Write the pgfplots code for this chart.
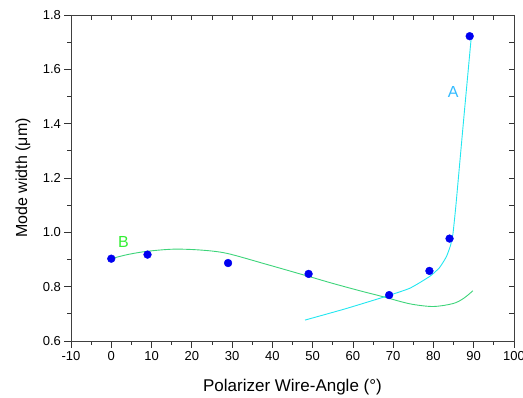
\documentclass[border=0pt]{standalone}
\usepackage{pgfplots}
\pgfplotsset{compat=1.18}
\usepackage{fontspec}
\setmainfont{Liberation Sans}
\definecolor{curveB}{HTML}{3DD47A}
\definecolor{curveA}{HTML}{22E6F0}
\definecolor{labB}{HTML}{33EE33}
\definecolor{labA}{HTML}{33BBFF}
\definecolor{pts}{HTML}{0000F0}
\begin{document}
\begin{tikzpicture}
\useasboundingbox (-71pt,-56pt) rectangle (452pt,341pt);
% mirror ticks (top/right, inward)
\begin{axis}[
 at={(0,0)}, anchor=south west,
 scale only axis, width=443pt, height=326pt,
 xmin=-10, xmax=100, ymin=0.6, ymax=1.8,
 xtick={-10,-5,...,100}, ytick={0.6,0.7,0.8,0.9,1.0,1.1,1.2,1.3,1.4,1.5,1.6,1.7,1.8},
 xticklabels={}, yticklabels={},
 xtick pos=right, ytick pos=right,
 tick align=inside, major tick length=5pt,
 tick style={black!80, line width=0.8pt},
 axis line style={line width=0.9pt, black!75},
]
\end{axis}
\begin{axis}[
 at={(0,0)}, anchor=south west,
 scale only axis, width=443pt, height=326pt,
 xmin=-10, xmax=100, ymin=0.6, ymax=1.8,
 xtick={-10,0,...,100}, ytick={0.6,0.8,1.0,1.2,1.4,1.6,1.8},
 minor x tick num=1, minor y tick num=1,
 xtick pos=left, ytick pos=left,
 tick align=outside, major tick length=6.5pt, minor tick length=3.5pt,
 tick style={black!80, line width=0.8pt},
 axis line style={line width=0.9pt, black!75},
 /pgf/number format/assume math mode=true,
 yticklabel style={/pgf/number format/fixed, /pgf/number format/fixed zerofill, /pgf/number format/precision=1},
 ticklabel style={font=\fontsize{13}{13}\selectfont},
 xlabel={Polarizer Wire-Angle (°)},
 ylabel={Mode width (μm)},
 xlabel style={font=\fontsize{17}{17}\selectfont, at={(axis description cs:0.5,-0.1564)}, anchor=base},
 ylabel style={font=\fontsize{16}{16}\selectfont, at={(axis description cs:-0.0993,0.5)}, anchor=base, rotate=0},
 clip=false,
]
\addplot[curveB, line width=0.9pt, smooth, tension=0.5] coordinates {
 (0,0.903) (4,0.918) (8.8,0.930) (15.4,0.938) (22,0.935) (28.6,0.923) (38.6,0.882)
 (48.5,0.840) (55,0.812) (61.7,0.785) (67.5,0.763) (74.1,0.737) (79.9,0.727)
 (84.9,0.738) (87.5,0.757) (89.8,0.785)
};
\addplot[curveA, line width=0.9pt, smooth, tension=0.3] coordinates {
 (48.1,0.677) (58,0.718) (67.5,0.761) (74.1,0.794) (79.1,0.838) (81.5,0.870)
 (83.2,0.910) (84.2,0.950) (84.8,0.990) (85.3,1.058) (85.7,1.119) (87.5,1.415) (89.4,1.720)
};
\addplot[only marks, mark=*, mark size=3.9pt, pts, mark options={draw=pts, fill=pts}] coordinates {
 (0,0.903) (9,0.918) (29,0.887) (49,0.847) (69,0.769) (79,0.858) (84,0.977) (89,1.722)
};
\node[text=labB, font=\fontsize{16}{16}\selectfont] at (axis cs:3,0.966) {B};
\node[text=labA, font=\fontsize{16}{16}\selectfont] at (axis cs:84.9,1.518) {A};
\end{axis}
\end{tikzpicture}
\end{document}
